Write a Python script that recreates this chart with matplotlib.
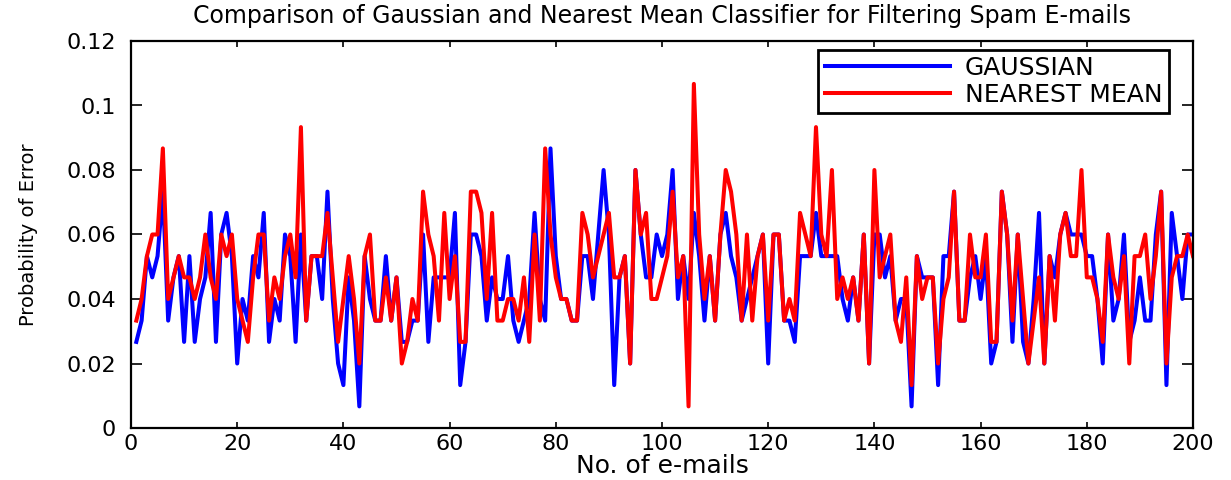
import matplotlib
matplotlib.use("Agg")
import matplotlib.pyplot as plt
from matplotlib.ticker import FixedLocator

emails = list(range(1, 201))

gaussian = [
    .0267, .0333, .0533, .0467, .0533, .0733, .0333, .0467, .0533, .0267,
    .0533, .0267, .04, .0467, .0667, .0267, .06, .0667, .0533, .02,
    .04, .0333, .0533, .0467, .0667, .0267, .04, .0333, .06, .0533,
    .0267, .06, .0333, .0533, .0533, .04, .0733, .04, .02, .0133,
    .0467, .0333, .0067, .0533, .04, .0333, .0333, .0533, .0333, .0467,
    .0267, .0267, .0333, .0333, .06, .0267, .0467, .0467, .0467, .0467,
    .0667, .0133, .0267, .06, .06, .0533, .0333, .0467, .04, .04,
    .0533, .0333, .0267, .0333, .04, .0667, .04, .0333, .0867, .0533,
    .04, .04, .0333, .0333, .0533, .0533, .04, .06, .08, .06,
    .0133, .0467, .0533, .02, .08, .06, .0467, .0467, .06, .0533,
    .06, .08, .04, .0533, .04, .0667, .0533, .0333, .0533, .0333,
    .06, .0667, .0533, .0467, .0333, .04, .0467, .0533, .06, .02,
    .06, .06, .0333, .0333, .0267, .0533, .0533, .0533, .0667, .0533,
    .0533, .0533, .0533, .04, .0333, .0467, .0333, .06, .02, .06,
    .06, .0467, .0533, .0333, .04, .04, .0067, .0533, .0467, .0467,
    .0467, .0133, .0533, .0533, .0733, .0333, .0333, .0467, .0533, .04,
    .0533, .02, .0267, .0733, .06, .0267, .06, .0267, .02, .04,
    .0667, .02, .0533, .0467, .06, .0667, .06, .06, .06, .0533,
    .0533, .04, .02, .06, .0333, .04, .06, .0267, .0333, .0467,
    .0333, .0333, .06, .0733, .0133, .0667, .0533, .04, .06, .06,
]

nearest_mean = [
    .0333, .04, .0533, .06, .06, .0867, .04, .0467, .0533, .0467,
    .0467, .04, .0467, .06, .0467, .04, .06, .0533, .06, .04,
    .0333, .0267, .0467, .06, .06, .0333, .0467, .04, .0533, .06,
    .0467, .0933, .0333, .0533, .0533, .0533, .0667, .0467, .0267, .04,
    .0533, .04, .02, .0533, .06, .0333, .0333, .0467, .0333, .0467,
    .02, .0267, .04, .0333, .0733, .06, .0533, .0333, .0667, .04,
    .0533, .0267, .0267, .0733, .0733, .0667, .04, .0667, .0333, .0333,
    .04, .04, .0333, .0467, .0267, .06, .0333, .0867, .06, .0467,
    .04, .04, .0333, .0333, .0667, .06, .0467, .0533, .06, .0667,
    .0467, .0467, .0533, .02, .08, .06, .0667, .04, .04, .0467,
    .0533, .0733, .0467, .0533, .0067, .1067, .06, .04, .0533, .0333,
    .06, .08, .0733, .06, .0333, .06, .0333, .0533, .06, .0333,
    .06, .06, .0333, .04, .0333, .0667, .06, .0533, .0933, .06,
    .0533, .08, .04, .0467, .04, .0467, .0333, .06, .02, .08,
    .0467, .0533, .06, .0333, .0267, .0467, .0133, .0533, .04, .0467,
    .0467, .02, .04, .0467, .0733, .0333, .0333, .06, .0467, .0467,
    .06, .0267, .0267, .0733, .06, .0333, .06, .04, .02, .0333,
    .0467, .02, .0533, .0333, .06, .0667, .0533, .0533, .08, .0467,
    .0467, .04, .0267, .06, .0467, .04, .0533, .02, .0533, .0533,
    .06, .04, .0533, .0733, .02, .0467, .0533, .0533, .06, .0533,
]

x_ticks = [0, 20, 40, 60, 80, 100, 120, 140, 160, 180, 200]
y_ticks = [0, 0.02, 0.04, 0.06, 0.08, 0.1, 0.12]
y_tick_labels = ["0", "0.02", "0.04", "0.06", "0.08", "0.1", "0.12"]

plt.rcParams['font.family'] = ['DejaVu Sans']

fig = plt.figure(figsize=(12.31, 4.80), dpi=100)
ax = fig.add_axes([131 / 1231, 1 - 428 / 480, (1193 - 131) / 1231, (428 - 41) / 480])

ax.plot(emails, gaussian, color='#0000FF', linewidth=2.9, label='GAUSSIAN')
ax.plot(emails, nearest_mean, color='#FF0000', linewidth=2.9, label='NEAREST MEAN')

ax.set_xlim(0, 200)
ax.set_ylim(0, 0.12)
ax.xaxis.set_major_locator(FixedLocator(x_ticks))
ax.set_yticks(y_ticks)
ax.set_yticklabels(y_tick_labels)

ax.tick_params(axis='both', which='major', direction='in', top=True, right=True,
               labelsize=16, width=1.2, colors='black')
ax.tick_params(axis='y', length=8, pad=11)
ax.tick_params(axis='x', length=4, pad=4)
for s in ax.spines.values():
    s.set_linewidth(1.6)
    s.set_color('black')

ax.set_title('Comparison of Gaussian and Nearest Mean Classifier for Filtering Spam E-mails',
             fontsize=17, pad=13)
ax.set_xlabel('No. of e-mails', fontsize=18, labelpad=0)
ax.set_ylabel('Probability of Error', fontsize=14, labelpad=20)

leg = ax.legend(loc='upper right', bbox_to_anchor=(0.977, 0.977), borderaxespad=0,
                fontsize=18, handlelength=5.0, handletextpad=0.6, borderpad=0.25,
                labelspacing=0.12, fancybox=False, framealpha=1, edgecolor='black')
leg.get_frame().set_linewidth(2.0)
for line in leg.get_lines():
    line.set_linewidth(2.9)

fig.savefig('out.png', dpi=100)
